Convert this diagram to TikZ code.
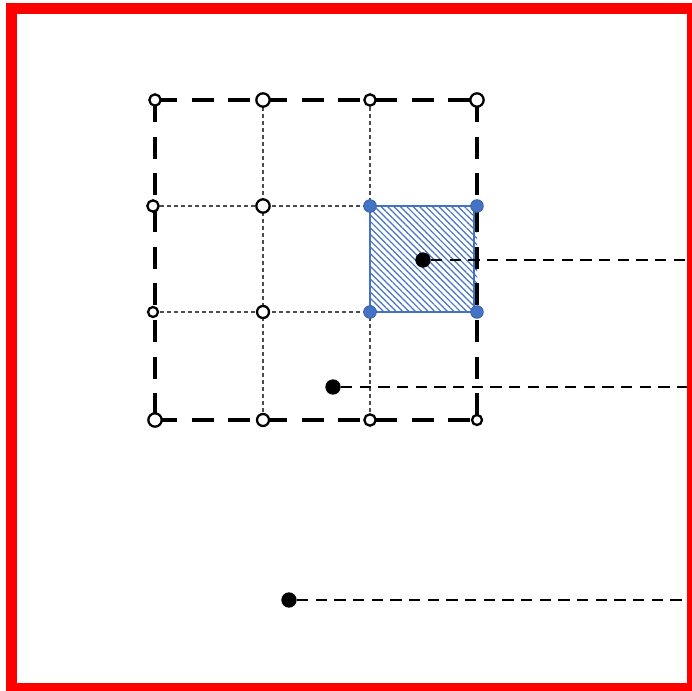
\documentclass[tikz,border=0pt]{standalone}
\usetikzlibrary{patterns,patterns.meta}
\definecolor{myblue}{HTML}{4472C4}
\begin{document}
\begin{tikzpicture}[x=0.75pt,y=-0.75pt,
  opendot/.style={circle,draw=black,fill=white,line width=1.7pt,inner sep=0pt,minimum size=8.5pt},
  bigopen/.style={opendot,minimum size=10pt},
  bluedot/.style={circle,fill=myblue,draw=myblue!85!black,line width=0.6pt,inner sep=0pt,minimum size=9.5pt},
  blackdot/.style={circle,fill=black,inner sep=0pt,minimum size=11.5pt},
  outerline/.style={line width=3.6pt,dash pattern=on 16.5pt off 11pt},
  gridline/.style={draw=black!70,line width=0.9pt,dash pattern=on 3pt off 2.25pt},
  leadline/.style={line width=1.9pt,dash pattern=on 8.5pt off 5.5pt},
  frameline/.style={draw=red,line width=8.25pt}]
\useasboundingbox (0,0) rectangle (692,691);
\path (155,100) coordinate (p00) (263,100) coordinate (p10) (370,100) coordinate (p20) (477,100) coordinate (p30)
      (153,206) coordinate (p01) (263,206) coordinate (p11) (370,206) coordinate (p21) (477,206) coordinate (p31)
      (153,312) coordinate (p02) (263,312) coordinate (p12) (370,312) coordinate (p22) (477,312) coordinate (p32)
      (155,420) coordinate (p03) (263,420) coordinate (p13) (370,420) coordinate (p23) (477,420) coordinate (p33);
% thin grid lines
\draw[gridline] (p10) -- (p13);
\draw[gridline] (p20) -- (p23);
\draw[gridline] (p01) -- (p31);
\draw[gridline] (p02) -- (p32);
% blue hatched square
\fill[white] (p21) rectangle (p32);
\fill[pattern={Lines[angle=-45,distance=3.4pt,line width=0.9pt]},pattern color=myblue] (p21) rectangle (p32);
\draw[myblue,line width=1.7pt] (p21) rectangle ([xshift=-2]p32);
% thick dashed outer square
\draw[outerline] (p00) -- (p30);
\draw[outerline] (p30) -- (p33);
\draw[outerline] (p03) -- (p33);
\draw[outerline] (p00) -- (p03);
% open circles
\node[opendot] (n00) at (p00) {};
\node[bigopen] (n10) at (p10) {};
\node[opendot] (n20) at (p20) {};
\node[bigopen] (n30) at (p30) {};
\node[opendot] (n01) at (p01) {};
\node[bigopen] (n11) at (p11) {};
\node[opendot,minimum size=7.5pt] (n02) at (p02) {};
\node[opendot,minimum size=9pt] (n12) at (p12) {};
\node[bigopen] (n03) at (p03) {};
\node[opendot,minimum size=9pt] (n13) at (p13) {};
\node[opendot] (n23) at (p23) {};
\node[opendot,minimum size=7.5pt] (n33) at (p33) {};
% blue corner dots
\node[bluedot] (b21) at (p21) {};
\node[bluedot] (b31) at (p31) {};
\node[bluedot] (b22) at (p22) {};
\node[bluedot] (b32) at (p32) {};
% black dots and leads
\node[blackdot] (d1) at (423,260) {};
\node[blackdot] (d2) at (333,387) {};
\node[blackdot] (d3) at (289,600) {};
\coordinate (e1) at (700,260);
\coordinate (e2) at (700,387);
\coordinate (e3) at (700,600);
\draw[leadline] (d1) -- (e1);
\draw[leadline] (d2) -- (e2);
\draw[leadline] (d3) -- (e3);
% red frame
\draw[frameline] (11.5,8.5) rectangle (692.5,688.5);
\end{tikzpicture}
\end{document}
